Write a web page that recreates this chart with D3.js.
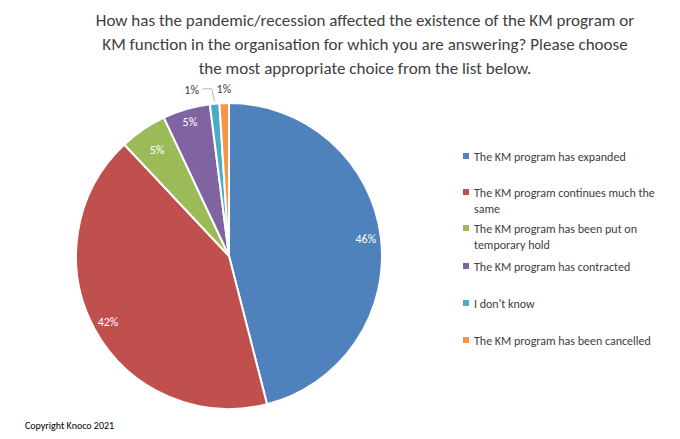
<!DOCTYPE html><html><head><meta charset="utf-8"><script src="https://cdn.jsdelivr.net/npm/d3@7"></script>
<style>body{margin:0;background:#fff}text{font-family:Calibri,Carlito,"Liberation Sans",Arial,sans-serif}</style></head><body><svg id="c" width="680" height="439"></svg><script>
const categories=["The KM program has expanded","The KM program continues much the same","The KM program has been put on temporary hold","The KM program has contracted","I don't know","The KM program has been cancelled"];
const values=[46,42,5,5,1,1];
const colors=["#4f81bd","#c0504d","#9bbb59","#8064a2","#4bacc6","#f79646"];
const legendLines=[["The KM program has expanded"],["The KM program continues much the","same"],["The KM program has been put on","temporary hold"],["The KM program has contracted"],["I don't know"],["The KM program has been cancelled"]];
const legendY=[157,193,229,267,304,341];
const svg=d3.select("#c");
const title=["How has the pandemic/recession affected the existence of the KM program or","KM function in the organisation for which you are answering? Please choose","the most appropriate choice from the list below."];
svg.selectAll(".t").data(title).join("text").attr("x",365).attr("y",(d,i)=>26+i*24).attr("text-anchor","middle").attr("font-size",17).attr("fill","#404040").text(d=>d);
const cx=229,cy=256,R=153;
const pie=d3.pie().sort(null).value(d=>d)(values);
const arc=d3.arc().innerRadius(0).outerRadius(R);
const g=svg.append("g").attr("transform",`translate(${cx},${cy})`);
g.selectAll("path").data(pie).join("path").attr("d",arc).attr("fill",(d,i)=>colors[i]).attr("stroke","#fff").attr("stroke-width",2);
const inArc=d3.arc().innerRadius(0).outerRadius(0);
pie.forEach((d,i)=>{
  const a=(d.startAngle+d.endAngle)/2;
  if(values[i]>=5){
    const r=i<2?138:i==2?128:140;
    g.append("text").attr("x",r*Math.sin(a)).attr("y",-r*Math.cos(a)+4).attr("text-anchor","middle").attr("font-size",12).attr("fill","#fff").text(values[i]+"%");
  } else {
    const r=163, x=r*Math.sin(a), y=-r*Math.cos(a);
    const off=i==4?-22:0;
    g.append("text").attr("x",x+off).attr("y",y).attr("text-anchor","middle").attr("font-size",12).attr("fill","#404040").text(values[i]+"%");
    if(i==4){g.append("path").attr("d",`M${x+off+11},${y-5}L${x-2},${y-5}L${R*Math.sin(a)},${-R*Math.cos(a)-2}`).attr("fill","none").attr("stroke","#a6a6a6").attr("stroke-width",0.8);}
  }
});
const lg=svg.append("g");
legendLines.forEach((ls,i)=>{
  lg.append("rect").attr("x",463).attr("y",legendY[i]-4).attr("width",6).attr("height",6).attr("fill",colors[i]);
  ls.forEach((l,j)=>lg.append("text").attr("x",474).attr("y",legendY[i]+4+j*16).attr("font-size",12).attr("fill","#404040").text(l));
});
svg.append("text").attr("x",25).attr("y",429).attr("font-size",10).attr("fill","#000").text("Copyright Knoco 2021");
</script></body></html>
